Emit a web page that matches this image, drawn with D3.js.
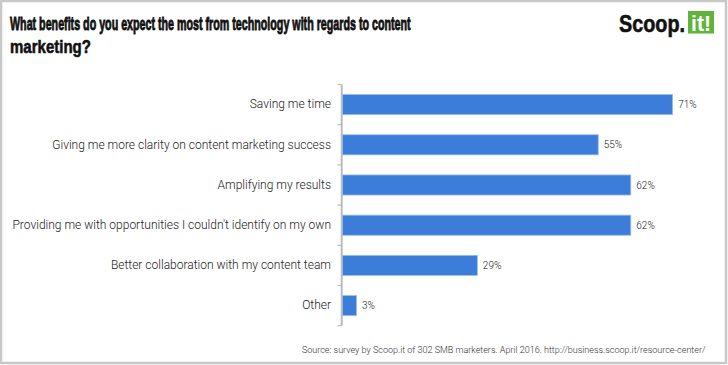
<!DOCTYPE html>
<html>
<head>
<meta charset="utf-8">
<script src="https://cdn.jsdelivr.net/npm/d3@7"></script>
<style>
  html, body { margin: 0; padding: 0; background: #fff; }
  svg { display: block; }
</style>
</head>
<body>
<svg id="chart" width="728" height="365"></svg>
<script>
const categories = [
  "Saving me time",
  "Giving me more clarity on content marketing success",
  "Amplifying my results",
  "Providing me with opportunities I couldn't identify on my own",
  "Better collaboration with my content team",
  "Other"
];
const values = [71, 55, 62, 62, 29, 3];
const titleLines = [
  "What benefits do you expect the most from technology with regards to content",
  "marketing?"
];
const sourceText = "Source: survey by Scoop.it of 302 SMB marketers. April 2016. http://business.scoop.it/resource-center/";

const svg = d3.select("#chart");

// frame
svg.append("rect")
  .attr("x", 1).attr("y", 1).attr("width", 725).attr("height", 362)
  .attr("fill", "#fff").attr("stroke", "#c8c8c8").attr("stroke-width", 2.5);

// helper: condensed text by horizontal scaling to a target width
function condensed(txt, x0, y0, width, size, fill, strokeW) {
  const t = svg.append("text")
    .attr("x", 0).attr("y", 0)
    .style("font-family", "'Liberation Sans', Arial, sans-serif")
    .style("font-weight", "bold")
    .style("font-size", size + "px")
    .attr("fill", fill)
    .attr("stroke", fill).attr("stroke-width", strokeW)
    .text(txt);
  const natural = t.node().getComputedTextLength();
  t.attr("transform", `translate(${x0},${y0}) scale(${width / natural},1)`);
  return t;
}

// title
condensed(titleLines[0], 10, 29.5, 401, 19, "#111", 0.9);
condensed(titleLines[1], 10, 53, 81, 19, "#111", 0.6);

// logo
condensed("Scoop.", 619, 31.7, 66, 24.5, "#111", 0.6);
svg.append("rect")
  .attr("x", 688).attr("y", 11).attr("width", 26).attr("height", 22.5)
  .attr("fill", "#5fb43b");
condensed("it!", 691, 30.5, 20, 22, "#fff", 0);

// scales
const y = d3.scaleBand().domain(categories).range([84.5, 325.7])
  .paddingInner(0.5).paddingOuter(0.25);
const x = d3.scaleLinear().domain([0, 100]).range([342.5, 807.5]);

// axis
const yAxis = d3.axisLeft(y).tickSize(0).tickPadding(11).tickFormat(d => d);
const gAxis = svg.append("g").attr("transform", "translate(342,0)").call(yAxis);
gAxis.select(".domain").remove();
gAxis.selectAll("text")
  .style("font-family", "Roboto, sans-serif")
  .style("font-size", "12px")
  .style("font-weight", "300")
  .attr("fill", "#1a1a1a");

// axis line and boundary ticks
const step = y.step();
const bounds = d3.range(categories.length + 1).map(i => 84.5 + i * step);
svg.append("line")
  .attr("x1", 341.7).attr("x2", 341.7)
  .attr("y1", bounds[0]).attr("y2", bounds[bounds.length - 1])
  .attr("stroke", "#bbbbbb").attr("stroke-width", 2);
svg.selectAll("line.btick").data(bounds).join("line")
  .attr("class", "btick")
  .attr("x1", 337.5).attr("x2", 341.7)
  .attr("y1", d => d).attr("y2", d => d)
  .attr("stroke", "#bbbbbb").attr("stroke-width", 1.2);

// bars
svg.selectAll("rect.bar").data(categories).join("rect")
  .attr("class", "bar")
  .attr("x", x(0))
  .attr("y", d => y(d))
  .attr("width", (d, i) => x(values[i]) - x(0))
  .attr("height", y.bandwidth())
  .attr("fill", "#3c7dd9")
  .attr("stroke", "#9dbdea").attr("stroke-width", 0.8);

// value labels
svg.selectAll("text.val").data(categories).join("text")
  .attr("class", "val")
  .attr("x", (d, i) => x(values[i]) + 5.5)
  .attr("y", d => y(d) + y.bandwidth() / 2)
  .attr("dy", "0.35em")
  .style("font-family", "Roboto, sans-serif")
  .style("font-size", "10px")
  .style("font-weight", "300")
  .attr("fill", "#222")
  .text((d, i) => values[i] + "%");

// source
svg.append("text")
  .attr("x", 705.5).attr("y", 352.5)
  .attr("text-anchor", "end")
  .style("font-family", "Roboto, sans-serif")
  .style("font-size", "9px")
  .style("font-weight", "300")
  .attr("fill", "#333")
  .text(sourceText);
</script>
</body>
</html>
